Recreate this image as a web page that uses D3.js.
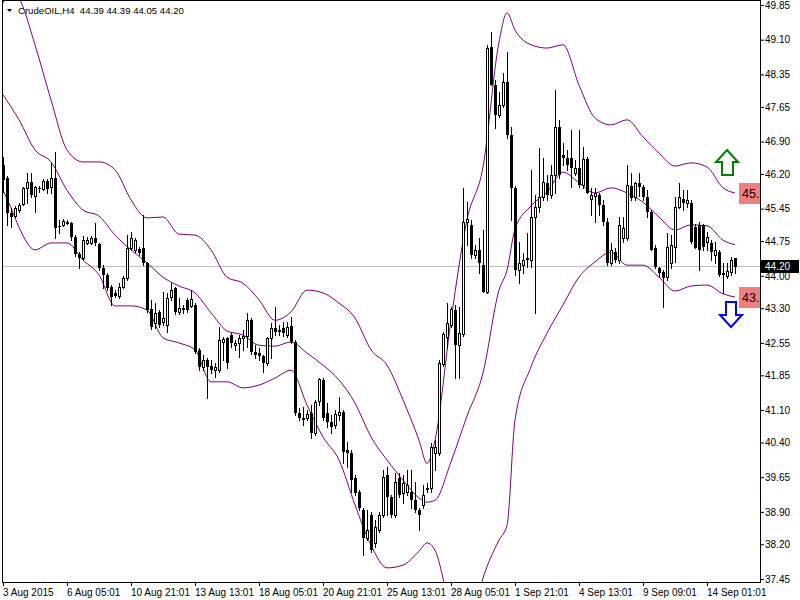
<!DOCTYPE html>
<html>
<head>
<meta charset="utf-8">
<script src="https://cdn.jsdelivr.net/npm/d3@7"></script>
<style>
  body { margin: 0; background: #fff; }
  svg text { font-family: "Liberation Sans", Arial, sans-serif; }
</style>
</head>
<body>
<div id="chart"></div>
<script>
// Velas H4 (open, high, low, close)
const open = [46.39,46.11,45.36,45.29,45.42,45.55,45.90,46.03,45.72,45.90,45.88,46.05,45.92,46.11,45.08,45.10,45.16,45.14,44.84,44.47,
  44.38,44.71,44.71,44.82,44.69,44.17,44.02,43.76,43.63,43.56,43.76,43.95,44.60,44.56,44.58,44.60,44.28,43.28,42.98,43.22,
  43.00,42.94,43.54,43.74,43.22,43.28,43.48,43.35,43.37,42.40,42.03,42.18,42.05,41.96,41.96,42.57,42.66,42.72,42.51,42.55,
  42.66,42.70,43.04,42.35,42.33,42.27,42.12,42.66,42.87,42.83,42.87,42.72,42.92,42.57,41.04,40.93,40.93,41.04,40.60,41.29,
  41.75,41.04,40.84,40.78,40.99,41.06,40.24,40.17,39.63,39.33,38.94,38.33,38.83,38.23,38.51,38.83,39.70,39.22,38.83,39.63,
  39.31,39.33,39.33,39.15,38.94,39.05,39.39,39.41,40.17,40.17,42.10,42.68,42.94,43.26,42.51,42.74,45.16,45.10,44.45,44.56,
  44.23,43.65,48.94,48.12,47.47,47.69,48.19,47.04,45.90,44.12,44.23,44.38,44.34,45.27,45.49,45.70,46.01,45.75,46.18,47.21,
  46.61,46.55,46.55,46.22,46.33,45.96,46.52,45.66,45.72,45.75,45.53,45.16,44.28,44.51,44.34,44.82,44.82,45.94,45.70,46.01,
  45.92,45.70,45.38,44.60,44.17,44.08,43.97,44.28,44.62,45.49,45.66,45.57,45.57,45.05,45.10,45.10,44.73,44.71,44.45,44.51,
  44.06,43.99,44.08,44.39];
const high = [46.57,46.16,45.47,45.51,45.57,45.92,46.22,46.22,45.94,45.94,46.09,46.09,46.44,46.68,45.21,45.23,45.21,45.16,44.88,44.51,
  44.86,44.84,44.86,45.14,44.71,44.23,44.06,43.80,43.69,43.84,43.99,44.88,44.95,44.82,44.62,45.31,44.30,43.48,43.41,43.26,
  43.65,43.63,43.84,43.76,43.52,43.37,43.52,43.69,43.41,42.44,42.29,42.22,42.18,42.12,42.89,42.68,42.68,42.76,42.61,42.72,
  42.83,43.20,43.09,42.51,42.44,42.29,42.68,42.98,43.33,42.94,43.00,43.00,43.11,42.61,41.14,41.17,41.10,41.21,41.32,41.79,
  41.79,41.25,40.99,41.10,41.38,41.10,40.41,40.24,39.70,39.37,38.98,38.94,38.90,38.72,38.90,39.80,39.87,39.26,39.74,39.74,
  39.70,39.80,39.80,39.54,38.98,39.48,39.52,40.39,40.45,42.18,42.79,43.41,43.33,43.37,43.33,45.90,45.59,45.21,44.67,44.82,
  44.99,48.99,49.27,48.23,47.97,48.38,48.84,47.21,45.94,44.73,44.49,44.92,46.29,45.75,46.76,46.55,46.18,46.40,48.02,47.37,
  46.87,46.72,47.15,46.50,47.15,46.78,46.57,45.90,45.90,45.79,45.64,45.25,44.71,44.60,45.27,45.27,46.40,46.22,46.03,46.22,
  45.96,45.85,45.42,44.67,44.19,44.12,44.92,44.88,45.70,46.01,45.85,45.85,45.64,45.12,45.16,45.12,44.95,44.77,44.73,44.56,
  44.28,44.28,44.40,44.39];
const low = [45.81,45.10,45.05,45.27,45.38,45.53,45.57,45.70,45.38,45.81,45.85,45.79,45.79,44.82,44.92,45.08,45.12,44.77,44.43,44.17,
  44.34,44.69,44.69,44.67,44.12,43.74,43.69,43.37,43.54,43.52,43.74,43.91,44.56,44.51,44.45,44.23,43.22,42.85,42.87,42.89,
  42.94,42.79,43.48,43.17,43.17,43.20,43.22,43.33,42.33,41.96,41.96,41.36,41.90,41.81,41.92,42.18,42.01,42.46,42.40,42.25,
  42.40,42.46,42.31,42.22,42.18,41.92,42.07,42.22,42.72,42.72,42.70,42.68,42.55,40.99,40.88,40.78,40.88,40.49,40.56,41.21,
  40.88,40.73,40.60,40.71,40.88,39.95,39.87,39.33,39.26,38.94,37.97,38.29,38.03,38.14,38.46,38.79,38.83,38.79,38.79,39.22,
  39.09,39.26,38.98,38.90,38.51,38.98,39.33,39.33,39.80,40.13,42.05,42.44,42.89,41.79,41.79,42.70,44.67,44.38,44.38,44.06,
  43.65,43.63,48.12,47.19,47.43,47.65,46.98,45.21,44.02,43.84,44.06,44.19,44.19,43.20,45.38,45.64,45.64,45.68,45.79,46.11,
  46.40,46.29,45.92,46.18,45.92,45.90,45.79,45.31,45.16,45.31,45.10,44.23,44.23,44.30,44.28,44.73,44.77,45.64,45.64,45.72,
  45.64,45.27,44.56,44.17,43.97,43.33,43.91,44.17,44.30,45.47,45.42,45.49,44.71,44.60,44.12,44.56,44.56,44.34,44.28,43.99,
  43.63,43.95,44.02,44.05];
const close = [46.07,45.36,45.27,45.47,45.53,45.90,46.03,45.75,45.92,45.88,46.05,45.88,46.11,45.03,45.05,45.18,45.17,44.84,44.47,44.38,
  44.77,44.77,44.82,44.71,44.17,44.02,43.74,43.54,43.56,43.76,43.95,44.60,44.82,44.77,44.49,44.28,43.26,42.89,43.20,42.94,
  43.09,43.52,43.69,43.22,43.30,43.30,43.26,43.50,42.35,42.03,42.18,42.03,41.96,42.03,42.61,42.63,42.12,42.55,42.55,42.66,
  42.70,43.04,42.35,42.29,42.27,42.12,42.66,42.87,42.79,42.83,42.76,42.89,42.57,41.04,40.93,40.88,41.01,40.60,41.27,41.77,
  40.93,40.84,40.73,41.01,41.06,40.19,40.17,39.59,39.31,38.98,38.33,38.51,38.07,38.57,38.83,39.65,39.22,38.83,39.54,39.26,
  39.52,39.48,39.15,38.94,38.83,39.26,39.41,40.30,40.30,42.12,42.74,42.98,43.28,42.51,42.76,45.16,45.23,44.45,44.56,44.28,
  43.65,48.92,48.12,47.47,47.69,48.19,47.04,45.90,44.12,44.28,44.34,44.38,45.27,45.49,45.70,46.03,45.75,46.18,47.21,46.18,
  46.55,46.40,46.33,46.33,45.96,46.52,45.79,45.75,45.79,45.53,45.16,44.28,44.56,44.34,45.10,45.03,45.96,45.68,46.01,45.92,
  45.70,45.38,44.56,44.19,44.06,43.95,44.62,44.67,45.49,45.70,45.57,45.64,44.73,44.60,44.56,44.62,44.84,44.51,44.56,44.02,
  44.02,44.10,44.34,44.20];

// Bandas de Bollinger, amostradas em algumas barras
const bandBars = [0,2,4,8,12,16,20,24,28,32,36,40,44,48,52,56,60,64,68,72,76,80,84,88,92,96,100,104,106,108,
  112,116,120,124,126,128,132,136,140,144,148,152,156,160,164,168,172,176,180,183];
const bandUpper = [49.89,50.18,50.00,48.99,47.80,46.72,46.46,46.46,46.29,45.64,45.25,45.27,44.90,44.88,44.56,43.97,43.84,43.48,43.04,43.22,
  43.69,43.63,43.41,43.09,42.40,42.07,41.32,40.45,39.95,40.45,43.04,45.21,46.35,49.05,49.68,49.31,48.99,48.92,48.99,48.12,
  47.41,47.26,47.37,47.00,46.65,46.37,46.44,46.35,45.90,45.79];
const bandMiddle = [47.91,47.65,47.37,46.72,46.46,45.85,45.42,45.29,44.88,44.56,44.28,43.97,43.78,43.63,43.20,42.81,42.72,42.50,42.48,42.57,
  42.33,42.07,41.75,41.25,40.52,40.02,39.59,39.20,39.11,39.15,39.98,40.97,41.90,43.69,44.12,45.01,45.51,45.81,46.24,46.01,
  45.79,45.90,45.79,45.59,45.27,44.99,45.10,45.08,44.77,44.67];
const bandLower = [45.85,45.47,45.05,44.56,44.71,44.71,44.34,44.02,43.35,43.35,43.26,42.66,42.55,42.40,41.71,41.71,41.58,41.64,41.79,41.96,
  41.21,40.52,40.02,39.05,38.18,37.69,37.75,38.05,38.23,38.07,36.78,36.13,37.47,38.29,38.61,40.88,42.03,42.76,43.37,43.97,
  44.30,44.51,44.23,44.23,43.97,43.67,43.78,43.80,43.61,43.54];

// Eixos
const priceTicks = [49.85,49.10,48.35,47.65,46.90,46.20,45.45,44.75,44.00,43.30,42.55,41.85,41.10,40.40,39.65,38.90,38.20,37.45];
const dateTickBars = [0,16,32,48,64,80,96,112,128,144,160,176];
const dateLabels = ["3 Aug 2015","6 Aug 05:01","10 Aug 21:01","13 Aug 13:01","18 Aug 05:01","20 Aug 21:01",
  "25 Aug 13:01","28 Aug 05:01","1 Sep 21:01","4 Sep 13:01","9 Sep 09:01","14 Sep 01:01"];
const lastPrice = 44.20;
const title = "CrudeOIL,H4\u00a0\u00a044.39 44.39 44.05 44.20";

const width = 800, height = 600;
const plot = { left: 2, right: 760, top: 0, bottom: 582 };

const x = d3.scaleLinear().domain([0, 183]).range([3, 735]);
const y = d3.scaleLinear().domain([37.45, 49.85]).range([579, 5]);

const svg = d3.select("#chart")
  .append("svg")
  .attr("width", width)
  .attr("height", height);

svg.append("clipPath")
  .attr("id", "plotClip")
  .append("rect")
  .attr("x", plot.left + 1)
  .attr("y", plot.top + 1)
  .attr("width", plot.right - plot.left - 1)
  .attr("height", plot.bottom - plot.top - 1);

const chart = svg.append("g").attr("clip-path", "url(#plotClip)");

// Linha do último preço
chart.append("line")
  .attr("x1", plot.left).attr("x2", plot.right)
  .attr("y1", Math.floor(y(lastPrice)) + 0.5)
  .attr("y2", Math.floor(y(lastPrice)) + 0.5)
  .attr("stroke", "#c0c0c0");

// Bandas
const bandLine = d3.line()
  .x(d => x(d[0]))
  .y(d => y(d[1]))
  .curve(d3.curveMonotoneX);

[bandUpper, bandMiddle, bandLower].forEach(band => {
  chart.append("path")
    .datum(bandBars.map((b, i) => [b, band[i]]))
    .attr("d", bandLine)
    .attr("fill", "none")
    .attr("stroke", "#800080")
    .attr("stroke-width", 1);
});

// Velas
const candles = open.map((o, i) => ({ i, o, h: high[i], l: low[i], c: close[i] }));

const candle = chart.selectAll("g.candle")
  .data(candles)
  .enter()
  .append("g")
  .attr("class", "candle");

candle.append("line")
  .attr("x1", d => x(d.i) + 0.5)
  .attr("x2", d => x(d.i) + 0.5)
  .attr("y1", d => Math.round(y(d.h)))
  .attr("y2", d => Math.round(y(d.l)) + 1)
  .attr("stroke", "#000");

candle.append("rect")
  .attr("x", d => d.c >= d.o ? x(d.i) - 0.5 : x(d.i) - 1)
  .attr("width", d => d.c >= d.o ? 2 : 3)
  .attr("y", d => {
    const top = Math.round(y(Math.max(d.o, d.c)));
    return d.c >= d.o ? top + 0.5 : top;
  })
  .attr("height", d => {
    const hgt = Math.round(y(Math.min(d.o, d.c))) - Math.round(y(Math.max(d.o, d.c)));
    return Math.max(hgt, 1);
  })
  .attr("fill", d => d.c >= d.o ? "#fff" : "#000")
  .attr("stroke", d => d.c >= d.o ? "#000" : "none");

// Moldura
svg.append("rect")
  .attr("x", plot.left + 0.5)
  .attr("y", plot.top + 0.5)
  .attr("width", plot.right - plot.left)
  .attr("height", plot.bottom - plot.top)
  .attr("fill", "none")
  .attr("stroke", "#000");

// Eixo de preços (o 44.00 fica por baixo da etiqueta do último preço, como no original)
const priceAxis = svg.append("g")
  .attr("transform", `translate(${plot.right},0)`)
  .call(d3.axisRight(y).tickValues(priceTicks).tickSize(4).tickPadding(1).tickFormat(d3.format(".2f")));
priceAxis.select(".domain").remove();
priceAxis.selectAll("text").attr("font-size", 10).attr("fill", "#000");

// Eixo de datas
const dateAxis = svg.append("g")
  .attr("transform", `translate(0,${plot.bottom})`)
  .call(d3.axisBottom(x).tickValues(dateTickBars).tickSize(4).tickFormat((d, i) => dateLabels[i]));
dateAxis.select(".domain").remove();
dateAxis.selectAll("text")
  .attr("font-size", 10)
  .attr("fill", "#000")
  .attr("text-anchor", "start")
  .attr("x", -0.5);

// Etiqueta do último preço
const ly = Math.floor(y(lastPrice));
svg.append("rect")
  .attr("x", plot.right + 1).attr("y", ly - 6)
  .attr("width", 38).attr("height", 13)
  .attr("fill", "#000");
svg.append("text")
  .attr("x", plot.right + 5).attr("y", ly + 0.5)
  .attr("dy", "0.32em")
  .attr("font-size", 10)
  .attr("fill", "#fff")
  .text(d3.format(".2f")(lastPrice));

// Etiquetas vermelhas das bandas
[[183, "45."], [287, "43."]].forEach(([top, label]) => {
  svg.append("rect")
    .attr("x", 739).attr("y", top)
    .attr("width", 21).attr("height", 21)
    .attr("fill", "#f08080");
  svg.append("text")
    .attr("x", 742).attr("y", top + 15)
    .attr("font-size", 12.5)
    .attr("fill", "#000")
    .text(label);
});

// Setas
svg.append("polygon")
  .attr("points", "727,150 738,162 733,162 733,175 722,175 722,162 716,162")
  .attr("fill", "#fff")
  .attr("stroke", "#008000")
  .attr("stroke-width", 2);
svg.append("polygon")
  .attr("points", "726,302 736,302 736,315 742,315 731,327 720,315 726,315")
  .attr("fill", "#fff")
  .attr("stroke", "#0000ff")
  .attr("stroke-width", 2);

// Título
svg.append("path")
  .attr("d", "M7,9 L12,9 L9.5,12 Z")
  .attr("fill", "#000");
svg.append("text")
  .attr("x", 18).attr("y", 14)
  .attr("font-size", 9.6)
  .attr("fill", "#000")
  .text(title);
</script>
</body>
</html>
